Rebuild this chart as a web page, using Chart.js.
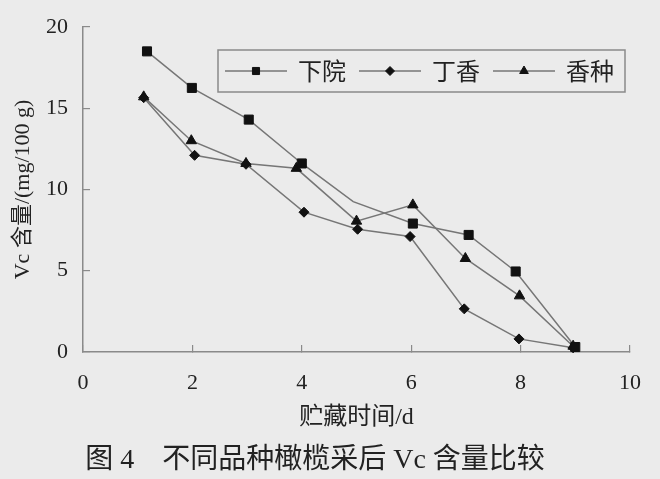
<!DOCTYPE html>
<html>
<head>
<meta charset="utf-8">
<script src="https://cdn.jsdelivr.net/npm/chart.js@4"></script>
<style>
  body { margin: 0; background: #ebebeb; }
  canvas { display: block; }
</style>
</head>
<body>
<canvas id="vcChart" width="660" height="479"></canvas>
<script>
  // values (storage day, Vc mg/100 g)
  const seriesNames = ['下院', '丁香', '香种'];
  const xiayuanDays = [1.17, 1.99, 3.03, 4.0, 4.94, 6.03, 7.05, 7.91, 9.0];
  const xiayuanVc = [18.5, 16.25, 14.3, 11.6, 9.25, 7.9, 7.2, 4.95, 0.3];
  const dingxiangDays = [1.11, 2.04, 2.98, 4.04, 5.02, 5.98, 6.97, 7.97, 8.96];
  const dingxiangVc = [15.65, 12.1, 11.55, 8.6, 7.55, 7.1, 2.65, 0.8, 0.25];
  const xiangzhongDays = [1.11, 1.98, 2.98, 3.9, 5.0, 6.03, 6.99, 7.98, 8.96];
  const xiangzhongVc = [15.7, 13.0, 11.6, 11.3, 8.05, 9.05, 5.75, 3.45, 0.35];
  const xTicks = [0, 2, 4, 6, 8, 10];
  const yTicks = [0, 5, 10, 15, 20];

  const lineColor = '#767676';
  const markColor = '#111';
  const axisColor = '#8a8a8a';
  const serifCJK = '"Liberation Serif", "Noto Sans CJK SC", serif';

  function toPoints(days, vals) {
    return days.map((d, i) => ({ x: d, y: vals[i] }));
  }

  function makeSet(label, days, vals, style, radius) {
    return {
      label: label,
      data: toPoints(days, vals),
      showLine: true,
      tension: 0,
      clip: false,
      borderColor: lineColor,
      borderWidth: 1.5,
      pointStyle: style,
      pointRadius: radius,
      pointHoverRadius: radius,
      pointBackgroundColor: markColor,
      pointBorderColor: markColor,
      pointBorderWidth: 1
    };
  }

  // boxed legend with line-marker-line samples, like the original figure
  const legendRadius = [5, 4.5, 5];
  const boxLegend = {
    id: 'boxLegend',
    afterDraw(chart) {
      const { ctx, chartArea } = chart;
      const x0 = chartArea.left + 135, y0 = chartArea.top + 23, w = 407, h = 42;
      const cy = y0 + h / 2;
      ctx.save();
      ctx.strokeStyle = axisColor;
      ctx.lineWidth = 1.5;
      ctx.strokeRect(x0, y0, w, h);
      chart.data.datasets.forEach((ds, i) => {
        const lx = x0 + 7 + i * 134;
        ctx.strokeStyle = lineColor;
        ctx.lineWidth = 1.5;
        ctx.beginPath();
        ctx.moveTo(lx, cy);
        ctx.lineTo(lx + 62, cy);
        ctx.stroke();
        ctx.fillStyle = markColor;
        ctx.strokeStyle = markColor;
        ctx.lineWidth = 1;
        Chart.helpers.drawPoint(ctx, { pointStyle: ds.pointStyle, radius: legendRadius[i], borderWidth: 1, rotation: 0 }, lx + 31, cy);
        ctx.fillStyle = '#222';
        ctx.font = '24px "Noto Sans CJK SC"';
        ctx.textBaseline = 'middle';
        ctx.textAlign = 'left';
        ctx.fillText(ds.label, lx + 73, cy);
      });
      ctx.restore();
    }
  };

  const xiayuanSet = makeSet(seriesNames[0], xiayuanDays, xiayuanVc, 'rect', 6.4);
  // the day-5 point of 下院 has no marker in the figure
  xiayuanSet.pointRadius = ctx => (ctx.dataIndex === 4 ? 0 : 6.4);

  new Chart(document.getElementById('vcChart'), {
    type: 'scatter',
    data: {
      datasets: [
        xiayuanSet,
        makeSet(seriesNames[1], dingxiangDays, dingxiangVc, 'rectRot', 5),
        makeSet(seriesNames[2], xiangzhongDays, xiangzhongVc, 'triangle', 6)
      ]
    },
    plugins: [boxLegend],
    options: {
      responsive: false,
      animation: false,
      layout: { padding: { top: 27, right: 30, left: 0, bottom: 0 } },
      scales: {
        x: {
          type: 'linear',
          min: 0,
          max: 10,
          afterBuildTicks: s => { s.ticks = xTicks.map(v => ({ value: v })); },
          afterFit: s => { s.height = 91.5; s.paddingLeft = 0; s.paddingRight = 0; },
          border: { color: axisColor, width: 1.5 },
          grid: { drawOnChartArea: false, tickLength: -7, color: axisColor, lineWidth: 1.2 },
          ticks: { color: '#222', padding: 25, font: { family: serifCJK, size: 22 } },
          title: {
            display: true,
            text: '贮藏时间/d',
            color: '#222',
            font: { family: serifCJK, size: 24 },
            padding: { top: 0, bottom: 11 }
          }
        },
        y: {
          type: 'linear',
          min: 0,
          max: 20,
          afterBuildTicks: s => { s.ticks = yTicks.map(v => ({ value: v })); },
          afterFit: s => { s.width = 83; s.paddingTop = 0; s.paddingBottom = 0; },
          border: { color: axisColor, width: 1.5 },
          grid: { drawOnChartArea: false, tickLength: -7, color: axisColor, lineWidth: 1.2 },
          ticks: { color: '#222', padding: 22, font: { family: serifCJK, size: 22 } },
          title: {
            display: true,
            text: 'Vc 含量/(mg/100 g)',
            color: '#222',
            font: { family: serifCJK, size: 22 },
            padding: { top: 10, bottom: 10 }
          }
        }
      },
      plugins: {
        legend: { display: false },
        tooltip: { enabled: false },
        title: {
          display: true,
          position: 'bottom',
          text: '图 4　不同品种橄榄采后 Vc 含量比较',
          color: '#222',
          font: { family: serifCJK, size: 28, weight: 'normal' },
          padding: { top: 0, bottom: 2 }
        }
      }
    }
  });
</script>
</body>
</html>
